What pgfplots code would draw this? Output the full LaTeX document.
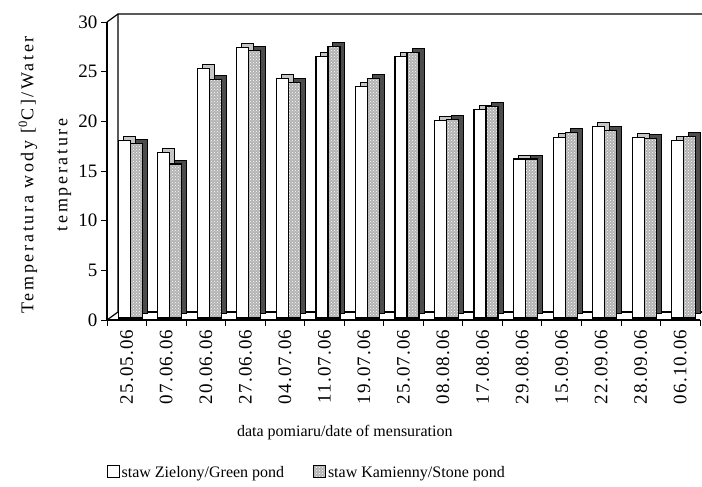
\documentclass[border=0pt]{standalone}
\usepackage{pgfplots}
\pgfplotsset{compat=1.18}
\usepackage{pgfplotstable}
\usepackage{fontspec}
\setmainfont{Liberation Serif}
\usetikzlibrary{patterns}

% water temperature, front-face values
\pgfplotstableread{
x  w     g
0  17.9  17.6
1  16.7  15.5
2  25.1  24.0
3  27.2  26.9
4  24.1  23.7
5  26.3  27.3
6  23.3  24.1
7  26.3  26.7
8  19.9  20.0
9  21.0  21.3
10 16.0  16.0
11 18.2  18.7
12 19.3  18.9
13 18.2  18.1
14 17.9  18.3
}\temps

\pgfplotsset{
  sqleg/.style={legend image code/.code={\draw[##1, line width=0.8pt] (0pt,-6pt) rectangle (12pt,6pt);}},
}

\begin{document}
\begin{tikzpicture}
\path[use as bounding box] (0,0) rectangle (702pt,487pt);
\begin{axis}[
  at={(107pt,167pt)}, anchor=south west,
  scale only axis, width=593pt, height=298pt,
  xmin=-0.5, xmax=14.5, ymin=0, ymax=30,
  axis lines*=left,
  axis line style={line width=1.6pt},
  clip=false,
  ybar, bar width=12pt,
  ytick={0,5,...,30},
  xtick={-0.5,0.5,...,14.5},
  x tick label as interval,
  xticklabels={25.05.06,07.06.06,20.06.06,27.06.06,04.07.06,11.07.06,19.07.06,25.07.06,08.08.06,17.08.06,29.08.06,15.09.06,22.09.06,28.09.06,06.10.06},
  tick align=outside, major tick length=6pt,
  tick style={black, line width=0.8pt},
  /pgf/number format/assume math mode=true,
  yticklabel style={font=\fontsize{19}{19}\selectfont},
  xticklabel style={font=\fontsize{19}{19}\selectfont\addfontfeature{LetterSpace=6}, rotate=90, anchor=east},
  xlabel={data pomiaru/date of mensuration},
  xlabel style={at={(axis description cs:0.401,-0.379)}, anchor=center, font=\fontsize{16}{16}\selectfont},
  ylabel={Temperatura wody [\textsuperscript{0}C]/Water\\temperature},
  ylabel style={at={(axis description cs:-0.1046,0.487)}, anchor=center, align=center,
    font=\fontsize{18}{34}\selectfont\addfontfeature{LetterSpace=15}},
  legend style={at={(axis description cs:0.337,-0.513)}, anchor=center, draw=none, fill=none,
    font=\fontsize{16}{16}\selectfont, legend columns=2,
    /tikz/every even column/.append style={column sep=27pt}},
]
% back wall and floor
\draw[line width=1.2pt] (rel axis cs:0,1) -- ++(11pt,8pt) -- ++(600pt,0pt);
\draw[line width=1.2pt] (rel axis cs:0,0) -- ++(11pt,8pt) -- ++(0pt,298pt);
\draw[line width=1.2pt] (rel axis cs:0,0) ++(11pt,8pt) -- ++(600pt,0pt);

\addplot[forget plot, fill=gray!45, draw=black, line width=1pt, bar shift=2.5pt, yshift=6pt] table[x=x,y=w]{\temps};
\addplot[sqleg, fill=white, draw=black, line width=1.2pt, bar shift=-2.5pt, yshift=2pt] table[x=x,y=w]{\temps};
\addlegendentry{staw Zielony/Green pond}
\addplot[forget plot, fill=black!70, draw=black, line width=1pt, bar shift=14.5pt, yshift=6pt] table[x=x,y=g]{\temps};
\addplot[sqleg, fill=gray!60, postaction={pattern=crosshatch dots, pattern color=white}, draw=black, line width=1.2pt, bar shift=9.5pt, yshift=2pt] table[x=x,y=g]{\temps};
\addlegendentry{staw Kamienny/Stone pond}
\end{axis}
\end{tikzpicture}
\end{document}
